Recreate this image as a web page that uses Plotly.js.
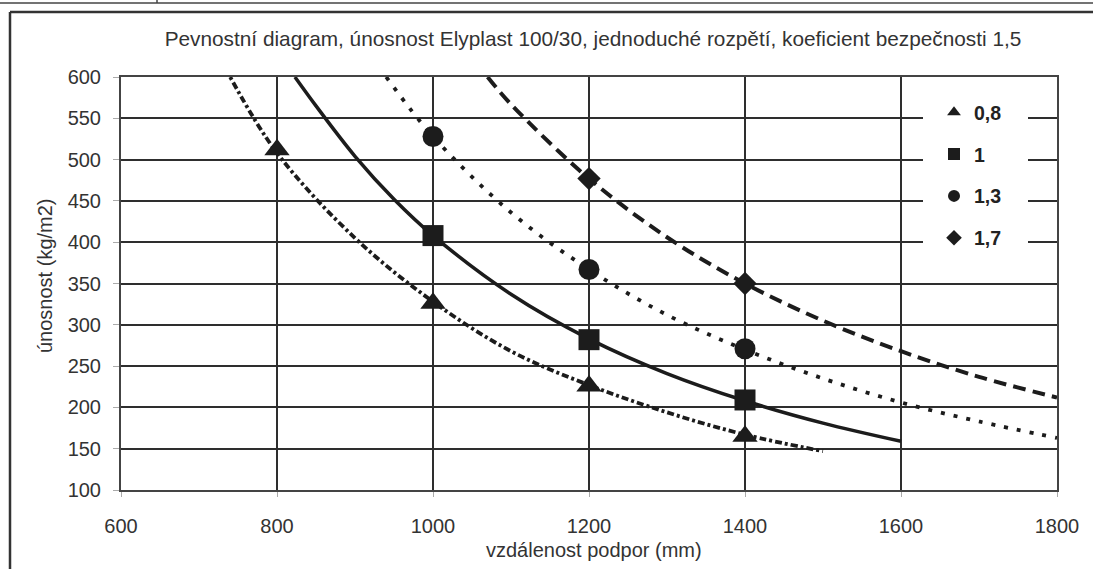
<!DOCTYPE html>
<html><head><meta charset="utf-8">
<script src="https://cdn.plot.ly/plotly-3.0.1.min.js"></script>
<style>html,body{margin:0;padding:0;background:#fff;} #chart{width:1093px;height:569px;}</style>
</head><body><div id="chart"></div>
<script>
// ---- data ----
const seriesNames = ['0,8', '1', '1,3', '1,7'];
const pointsX08 = [800, 1000, 1200, 1400];
const pointsY08 = [512, 326, 226, 165];
const pointsX10 = [1000, 1200, 1400];
const pointsY10 = [408, 282, 209];
const pointsX13 = [1000, 1200, 1400];
const pointsY13 = [528, 367, 271];
const pointsX17 = [1200, 1400];
const pointsY17 = [477, 350];
// trend curves, points
const curveX08 = [740, 800, 900, 1000, 1100, 1200, 1300, 1400, 1500];
const curveY08 = [600, 508, 405, 328, 268, 227, 194, 167, 147];
const curveX10 = [823, 850, 900, 950, 1000, 1100, 1200, 1300, 1400, 1500, 1600];
const curveY10 = [600, 565, 504, 452, 408, 337, 283, 241, 208, 181, 159];
const curveX13 = [940, 1000, 1100, 1200, 1300, 1400, 1500, 1600, 1700, 1800];
const curveY13 = [600, 528, 436, 367, 312, 270, 235, 206, 183, 163];
const curveX17 = [1070, 1100, 1200, 1300, 1400, 1500, 1600, 1700, 1800];
const curveY17 = [600, 567, 477, 406, 350, 305, 268, 237, 212];
const xTickVals = [600, 800, 1000, 1200, 1400, 1600, 1800];
const yTickVals = [100, 150, 200, 250, 300, 350, 400, 450, 500, 550, 600];
const titleText = 'Pevnostní diagram, únosnost Elyplast 100/30, jednoduché rozpětí, koeficient bezpečnosti 1,5';
const xTitleText = 'vzdálenost podpor (mm)';
const yTitleText = 'únosnost (kg/m2)';

// ---- layout helpers ----
const W = 1093, H = 569, L = 121, R = 1057, T = 77, B = 490;
const px = p => (p - L) / (R - L);
const py = p => (B - p) / (B - T);
const ink = '#1c1c1c';
const FONT = '"Liberation Sans", Arial, Helvetica, sans-serif';

function curve(x, y, dash, width) {
  return {x: x, y: y, type: 'scatter', mode: 'lines', showlegend: false, hoverinfo: 'skip',
    line: {color: ink, width: width, dash: dash, shape: 'spline', smoothing: 1}};
}
function pts(x, y, name, symbol, size) {
  return {x: x, y: y, type: 'scatter', mode: 'markers', name: name, legendgroup: name,
    marker: {color: ink, symbol: symbol, size: size, line: {width: 0}}};
}

const traces = [
  curve(curveX08, curveY08, '3px,3px,7px,3px', 3.8),
  curve(curveX10, curveY10, 'solid', 3.5),
  curve(curveX13, curveY13, '4px,9px', 3.8),
  curve(curveX17, curveY17, '13px,7px', 4),
  pts(pointsX08, pointsY08, seriesNames[0], 'triangle-up', 22),
  pts(pointsX10, pointsY10, seriesNames[1], 'square', 21),
  pts(pointsX13, pointsY13, seriesNames[2], 'circle', 21),
  pts(pointsX17, pointsY17, seriesNames[3], 'diamond', 18)
];

const layout = {
  width: W, height: H,
  margin: {l: L, r: W - R, t: T, b: H - B, pad: 0},
  paper_bgcolor: '#fff', plot_bgcolor: '#fff',
  font: {family: FONT, color: '#333', size: 20},
  title: {text: titleText, font: {family: FONT, size: 20.8, color: '#333'},
    xref: 'paper', yref: 'paper', x: px(593), xanchor: 'center', y: py(40), yanchor: 'middle'},
  xaxis: {range: [600, 1800], tickvals: xTickVals, showgrid: true, gridcolor: '#2e2e2e', gridwidth: 2,
    zeroline: false, showline: true, mirror: true, linecolor: '#444', linewidth: 2,
    ticks: 'outside', ticklen: 5, tickcolor: '#aaa', tickwidth: 1, ticklabelstandoff: 12,
    tickfont: {family: FONT, size: 20, color: '#333'}, fixedrange: true},
  yaxis: {range: [100, 600], tickvals: yTickVals, showgrid: true, gridcolor: '#2e2e2e', gridwidth: 2,
    zeroline: false, showline: true, mirror: true, linecolor: '#444', linewidth: 2,
    ticks: 'outside', ticklen: 6, tickcolor: '#aaa', tickwidth: 1, ticklabelstandoff: 8,
    tickfont: {family: FONT, size: 20, color: '#333'}, fixedrange: true},
  showlegend: true,
  legend: {x: px(934), xanchor: 'left', y: py(93), yanchor: 'top', bgcolor: 'rgba(0,0,0,0)',
    borderwidth: 0, traceorder: 'grouped', tracegroupgap: 13.5, itemsizing: 'constant', itemwidth: 30,
    font: {family: FONT, size: 19.5, color: '#222', weight: 'bold'}},
  shapes: [
    {type: 'line', xref: 'paper', yref: 'paper', x0: px(0), x1: px(W), y0: py(3), y1: py(3), line: {color: '#444', width: 1.5}},
    {type: 'line', xref: 'paper', yref: 'paper', x0: px(157), x1: px(157), y0: py(0), y1: py(3), line: {color: '#444', width: 1.5}},
    {type: 'line', xref: 'paper', yref: 'paper', x0: px(10), x1: px(W), y0: py(12), y1: py(12), line: {color: '#333', width: 2.5}},
    {type: 'line', xref: 'paper', yref: 'paper', x0: px(10), x1: px(10), y0: py(12), y1: py(H), line: {color: '#333', width: 2.5}},
    {type: 'rect', xref: 'paper', yref: 'paper', layer: 'above', x0: px(923), x1: px(1028), y0: py(95), y1: py(256),
      fillcolor: '#fff', line: {width: 0}}
  ],
  annotations: [
    {text: yTitleText, xref: 'paper', yref: 'paper', x: px(45), y: py(276), textangle: -90,
      showarrow: false, xanchor: 'center', yanchor: 'middle', font: {family: FONT, size: 20, color: '#333'}},
    {text: xTitleText, xref: 'paper', yref: 'paper', x: px(594), y: py(550),
      showarrow: false, xanchor: 'center', yanchor: 'middle', borderpad: 0,
      font: {family: FONT, size: 20, color: '#333'}}
  ]
};

Plotly.newPlot('chart', traces, layout, {displayModeBar: false, staticPlot: true});
</script>
</body></html>
